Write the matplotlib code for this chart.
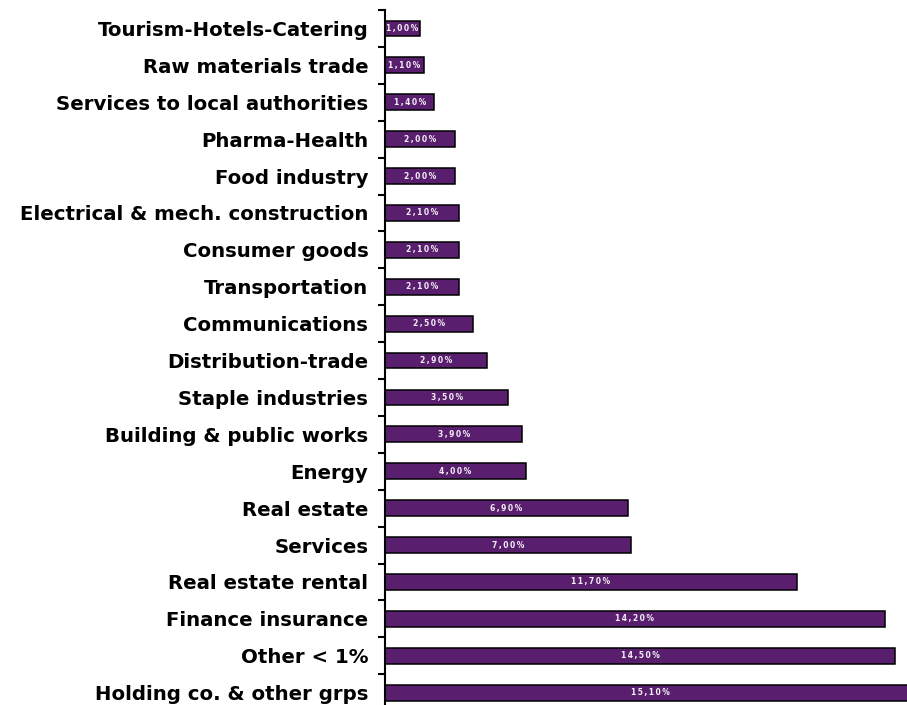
import matplotlib
matplotlib.use("Agg")
import matplotlib.pyplot as plt
import numpy as np

categories = [
    "Tourism-Hotels-Catering",
    "Raw materials trade",
    "Services to local authorities",
    "Pharma-Health",
    "Food industry",
    "Electrical & mech. construction",
    "Consumer goods",
    "Transportation",
    "Communications",
    "Distribution-trade",
    "Staple industries",
    "Building & public works",
    "Energy",
    "Real estate",
    "Services",
    "Real estate rental",
    "Finance insurance",
    "Other < 1%",
    "Holding co. & other grps",
]
values = [1.0, 1.1, 1.4, 2.0, 2.0, 2.1, 2.1, 2.1, 2.5, 2.9, 3.5, 3.9, 4.0,
          6.9, 7.0, 11.7, 14.2, 14.5, 15.1]

W, H = 907, 705
fig = plt.figure(figsize=(W / 100, H / 100), dpi=100)
px_per_unit = 35.2
left_px = 385
top_px = 10
row_px = 36.9
n = len(categories)
ax_h = n * row_px
ax = fig.add_axes([left_px / W, (H - top_px - ax_h) / H, (W - left_px) / W, ax_h / H])

y = np.arange(n)
ax.barh(y, values, height=0.43, color="#5a1e6e", edgecolor="black", linewidth=1.1)
ax.set_ylim(n - 0.5, -0.5)
ax.set_xlim(0, (W - left_px) / px_per_unit)

for yi, v in zip(y, values):
    s = f"{v:.2f}%".replace(".", ",")
    s = "\u2009".join(s)
    ax.text(v / 2, yi, s, ha="center", va="center", color="#f4f0f6",
            fontsize=5.5, fontweight="bold")

for sp in ["top", "right", "bottom"]:
    ax.spines[sp].set_visible(False)
ax.spines["left"].set_linewidth(1.5)
ax.xaxis.set_visible(False)

ax.set_yticks(np.arange(-0.5, n, 1.0))
ax.set_yticklabels([])
ax.tick_params(axis="y", which="major", length=5, width=1.5, direction="out")
ax.set_yticks(y, minor=True)
ax.set_yticklabels(categories, minor=True, fontsize=14.2, fontweight="bold",
                   family="DejaVu Sans")
ax.tick_params(axis="y", which="minor", length=0, pad=12)

fig.savefig("out.png", dpi=100)
